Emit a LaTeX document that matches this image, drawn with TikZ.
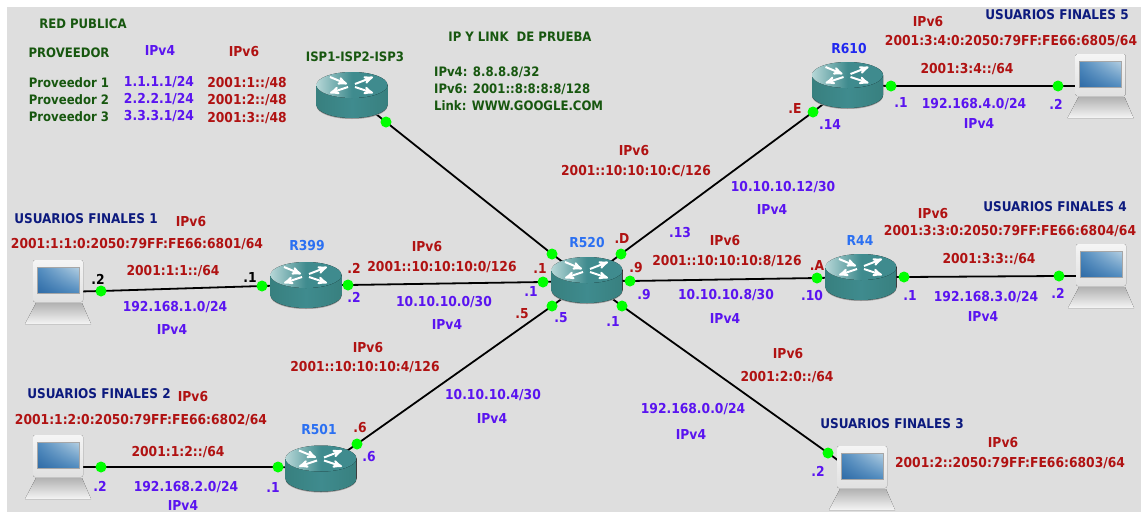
\documentclass[tikz,border=0pt]{standalone}
\usepackage{fontspec}
\setmainfont{DejaVu Sans Condensed}[BoldFont={DejaVu Sans Condensed Bold}]
\usetikzlibrary{arrows,backgrounds,shadings}
\definecolor{bgnet}{HTML}{DEDEDE}
\definecolor{teal1}{HTML}{3F8B8E}
\definecolor{teal2}{HTML}{38807F}
\definecolor{teal3}{HTML}{B5D6D6}
\definecolor{redv6}{HTML}{B01212}
\definecolor{purv4}{HTML}{5A14F0}
\definecolor{grnet}{HTML}{17570F}
\definecolor{bluer}{HTML}{2B70F2}
\definecolor{bluedark}{HTML}{2028F0}
\definecolor{navyu}{HTML}{0C1A7E}
\definecolor{scrna}{HTML}{2F6BA6}
\definecolor{scrnb}{HTML}{B4CFE2}
\definecolor{scrnc}{HTML}{4F8BBF}
\newcommand{\routericon}{%
  \begin{scope}[shift={(path picture bounding box.center)}]
    \fill[black!40] (-35.5,-9) -- (-35.5,11) arc[start angle=180,end angle=0,x radius=35.5,y radius=13] -- (35.5,-9) -- cycle;
    \fill[left color=teal2,right color=teal2,middle color=teal1] (-35.5,-10) -- (-35.5,10) arc[start angle=180,end angle=0,x radius=35.5,y radius=13] -- (35.5,-10) -- cycle;
    \fill[left color=teal3,right color=teal1,middle color=teal1] (0,-10) ellipse[x radius=35.5,y radius=13];
    \draw[routerarrow] (-22,-18) -- (-5,-11);
    \draw[routerarrow] (3,-11) -- (21,-18);
    \draw[routerarrow] (-4,-8) -- (-22,-2);
    \draw[routerarrow] (3,-8) -- (21,-2);
  \end{scope}}
\newcommand{\laptopicon}{%
  \begin{scope}[shift={(path picture bounding box.center)}]
    \fill[top color=black!30,bottom color=black!4] (-22,11) -- (24,11) -- (33,32) -- (-33,32) -- cycle;
    \fill[top color=black!4,bottom color=black!12,rounded corners=2pt] (-25,-32) rectangle (25,10);
    \shade[lower left=scrna,upper right=scrnb,upper left=scrnc,lower right=scrnc] (-21,-25) rectangle (21,1);
    \draw[black!35] (-21,-25) rectangle (21,1);
  \end{scope}}
\tikzset{
  routerarrow/.style = {white, line width=2pt, ->, >=stealth'},
  router/.style = {inner sep=0pt, minimum width=71pt, minimum height=50pt,
    path picture={\routericon}},
  laptop/.style = {inner sep=0pt, minimum width=68pt, minimum height=66pt,
    path picture={\laptopicon}},
  dot/.style = {circle, fill=green, inner sep=0pt, minimum size=11pt},
  link/.style = {black, line width=1.8pt},
  lbl/.style = {inner sep=0pt, font=\fontsize{13.7}{15}\selectfont\bfseries},
  vsix/.style = {lbl, text=redv6},
  vfour/.style = {lbl, text=purv4},
  gtext/.style = {lbl, text=grnet, font=\fontsize{13}{15}\selectfont\bfseries},
  rname/.style = {lbl, text=bluer},
  uname/.style = {lbl, text=navyu, font=\fontsize{13.4}{15}\selectfont\bfseries},
  dark/.style = {lbl, text=black}
}

\begin{document}
\begin{tikzpicture}[x=1pt,y=-1pt]
    \useasboundingbox (0,0) rectangle (1141,512);

    \node [router] (isp) at (352,95) {};
    \node [router] (r610) at (847.5,85) {};
    \node [router] (r44) at (861,277) {};
    \node [router] (r520) at (587,280) {};
    \node [router] (r399) at (306,285) {};
    \node [router] (r501) at (321,468.5) {};

    \node [laptop] (pcuno) at (58,292) {};
    \node [laptop] (pcdos) at (58,467) {};
    \node [laptop] (pctres) at (862,478) {};
    \node [laptop] (pccuatro) at (1101,276) {};
    \node [laptop] (pccinco) at (1100.5,86) {};

    \node [dot] (dotisp) at (386,122) {};
    \node [dot] (dotaa) at (552,254) {};
    \node [dot] (dotab) at (621,254) {};
    \node [dot] (dotac) at (543,282) {};
    \node [dot] (dotad) at (630,281) {};
    \node [dot] (dotae) at (552,306) {};
    \node [dot] (dotaf) at (622,306) {};
    \node [dot] (dotea) at (813,112) {};
    \node [dot] (doteb) at (891,86) {};
    \node [dot] (dotec) at (1058,86) {};
    \node [dot] (dotfa) at (817,278) {};
    \node [dot] (dotfb) at (904,277) {};
    \node [dot] (dotfc) at (1059,276) {};
    \node [dot] (dotba) at (262,286) {};
    \node [dot] (dotbb) at (348,285) {};
    \node [dot] (dotbc) at (101,291) {};
    \node [dot] (dotca) at (278,467) {};
    \node [dot] (dotcb) at (357,444) {};
    \node [dot] (dotcc) at (101,467) {};
    \node [dot] (dotd) at (828,453) {};

    \begin{pgfonlayer}{background}
        \fill[bgnet] (7,7) rectangle (1141,512);
        \draw[link] (isp.center) -- (dotisp.center) -- (dotaa.center) -- (r520.center);
        \draw[link] (r520.center) -- (dotab.center) -- (dotea.center) -- (r610.center);
        \draw[link] (r610.center) -- (doteb.center) -- (dotec.center) -- (pccinco.center);
        \draw[link] (r520.center) -- (dotad.center) -- (dotfa.center) -- (r44.center);
        \draw[link] (r44.center) -- (dotfb.center) -- (dotfc.center) -- (pccuatro.center);
        \draw[link] (r520.center) -- (dotac.center) -- (dotbb.center) -- (r399.center);
        \draw[link] (r399.center) -- (dotba.center) -- (dotbc.center) -- (pcuno.center);
        \draw[link] (r520.center) -- (dotae.center) -- (dotcb.center) -- (r501.center);
        \draw[link] (r501.center) -- (dotca.center) -- (dotcc.center) -- (pcdos.center);
        \draw[link] (r520.center) -- (dotaf.center) -- (dotd.center) -- (pctres.center);
    \end{pgfonlayer}

    \node [gtext] (tred) at (83,24) {RED PUBLICA};
    \node [gtext] (tprov) at (69,53) {PROVEEDOR};
    \node [vfour] (tpfour) at (160,51) {IPv4};
    \node [vsix] (tpsix) at (244,52) {IPv6};
    \node [gtext] (tpa) at (69,83) {Proveedor 1};
    \node [gtext] (tpb) at (69,100) {Proveedor 2};
    \node [gtext] (tpc) at (69,117) {Proveedor 3};
    \node [vfour] (tfa) at (159,82) {1.1.1.1/24};
    \node [vfour] (tfb) at (159,99) {2.2.2.1/24};
    \node [vfour] (tfc) at (159,116) {3.3.3.1/24};
    \node [vsix] (tsa) at (247,83) {2001:1::/48};
    \node [vsix] (tsb) at (247,100) {2001:2::/48};
    \node [vsix] (tsc) at (247,118) {2001:3::/48};
    \node [gtext] (tisp) at (355,57) {ISP1-ISP2-ISP3};
    \node [gtext] (tprueba) at (520,37) {IP Y LINK\ \ DE PRUEBA};
    \node [gtext, anchor=west] (tpfa) at (434,72) {IPv4: 8.8.8.8/32};
    \node [gtext, anchor=west] (tpfb) at (434,89) {IPv6: 2001::8:8:8:8/128};
    \node [gtext, anchor=west] (tpfc) at (434,106) {Link: WWW.GOOGLE.COM};

    \node [rname, text=bluedark] (nr610) at (849,49) {R610};
    \node [vsix] (ea) at (928,22) {IPv6};
    \node [uname] (eb) at (1057,15) {USUARIOS FINALES 5};
    \node [vsix] (ec) at (1011,41) {2001:3:4:0:2050:79FF:FE66:6805/64};
    \node [vsix] (ed) at (967,69) {2001:3:4::/64};
    \node [vfour] (ee) at (901,103) {.1};
    \node [vfour] (ef) at (974,104) {192.168.4.0/24};
    \node [vfour] (eg) at (1056,104) {.2};
    \node [vfour] (eh) at (979,124) {IPv4};
    \node [vsix] (ei) at (795,109) {.E};
    \node [vfour] (ej) at (830,125) {.14};

    \node [vsix] (ga) at (634,151) {IPv6};
    \node [vsix] (gb) at (636,171) {2001::10:10:10:C/126};
    \node [vfour] (gc) at (783,187) {10.10.10.12/30};
    \node [vfour] (gd) at (772,210) {IPv4};
    \node [vfour] (ge) at (680,233) {.13};

    \node [rname] (nr520) at (587,243) {R520};
    \node [vsix] (ha) at (622,239) {.D};
    \node [vsix] (hb) at (540,269) {.1};
    \node [vfour] (hc) at (531,292) {.1};
    \node [vsix] (hd) at (636,268) {.9};
    \node [vfour] (he) at (644,295) {.9};
    \node [vsix] (hf) at (522,314) {.5};
    \node [vfour] (hg) at (561,318) {.5};
    \node [vfour] (hh) at (613,321) {.1};

    \node [vsix] (ka) at (725,241) {IPv6};
    \node [vsix] (kb) at (727,261) {2001::10:10:10:8/126};
    \node [vfour] (kc) at (726,295) {10.10.10.8/30};
    \node [vfour] (kd) at (725,319) {IPv4};

    \node [rname] (nr44) at (860,241) {R44};
    \node [vsix] (fa) at (817,266) {.A};
    \node [vfour] (fb) at (812,296) {.10};
    \node [vfour] (fc) at (910,295) {.1};
    \node [vsix] (fd) at (933,214) {IPv6};
    \node [uname] (fe) at (1055,207) {USUARIOS FINALES 4};
    \node [vsix] (ff) at (1010,231) {2001:3:3:0:2050:79FF:FE66:6804/64};
    \node [vsix] (fg) at (989,259) {2001:3:3::/64};
    \node [vfour] (fh) at (986,297) {192.168.3.0/24};
    \node [vfour] (fi) at (983,316) {IPv4};
    \node [vfour] (fj) at (1058,293) {.2};

    \node [rname] (nr399) at (307,246) {R399};
    \node [uname] (ba) at (86,219) {USUARIOS FINALES 1};
    \node [vsix] (bb) at (191,222) {IPv6};
    \node [vsix] (bc) at (137,244) {2001:1:1:0:2050:79FF:FE66:6801/64};
    \node [vsix] (bd) at (173,271) {2001:1:1::/64};
    \node [dark] (be) at (98,279) {.2};
    \node [dark] (bf) at (250,278) {.1};
    \node [vsix] (bg) at (354,268) {.2};
    \node [vfour] (bh) at (354,297) {.2};
    \node [vfour] (bi) at (175,307) {192.168.1.0/24};
    \node [vfour] (bj) at (172,329) {IPv4};
    \node [vsix] (bk) at (427,247) {IPv6};
    \node [vsix] (bl) at (442,267) {2001::10:10:10:0/126};
    \node [vfour] (bm) at (444,302) {10.10.10.0/30};
    \node [vfour] (bn) at (447,324) {IPv4};

    \node [rname] (nr501) at (319,430) {R501};
    \node [vsix] (ca) at (368,348) {IPv6};
    \node [vsix] (cb) at (365,367) {2001::10:10:10:4/126};
    \node [vfour] (cc) at (493,395) {10.10.10.4/30};
    \node [vfour] (cd) at (492,418) {IPv4};
    \node [uname] (ce) at (99,394) {USUARIOS FINALES 2};
    \node [vsix] (cf) at (193,397) {IPv6};
    \node [vsix] (cg) at (141,420) {2001:1:2:0:2050:79FF:FE66:6802/64};
    \node [vsix] (ch) at (178,452) {2001:1:2::/64};
    \node [vfour] (ci) at (100,486) {.2};
    \node [vfour] (cj) at (186,487) {192.168.2.0/24};
    \node [vfour] (ck) at (273,487) {.1};
    \node [vfour] (cl) at (183,505) {IPv4};
    \node [vsix] (cm) at (360,428) {.6};
    \node [vfour] (cn) at (369,457) {.6};

    \node [vsix] (da) at (788,354) {IPv6};
    \node [vsix] (db) at (787,377) {2001:2:0::/64};
    \node [vfour] (dc) at (693,409) {192.168.0.0/24};
    \node [vfour] (dd) at (691,434) {IPv4};
    \node [uname] (de) at (892,424) {USUARIOS FINALES 3};
    \node [vsix] (df) at (1003,443) {IPv6};
    \node [vsix] (dg) at (1010,463) {2001:2::2050:79FF:FE66:6803/64};
    \node [vfour] (dh) at (818,471) {.2};
\end{tikzpicture}
\end{document}
